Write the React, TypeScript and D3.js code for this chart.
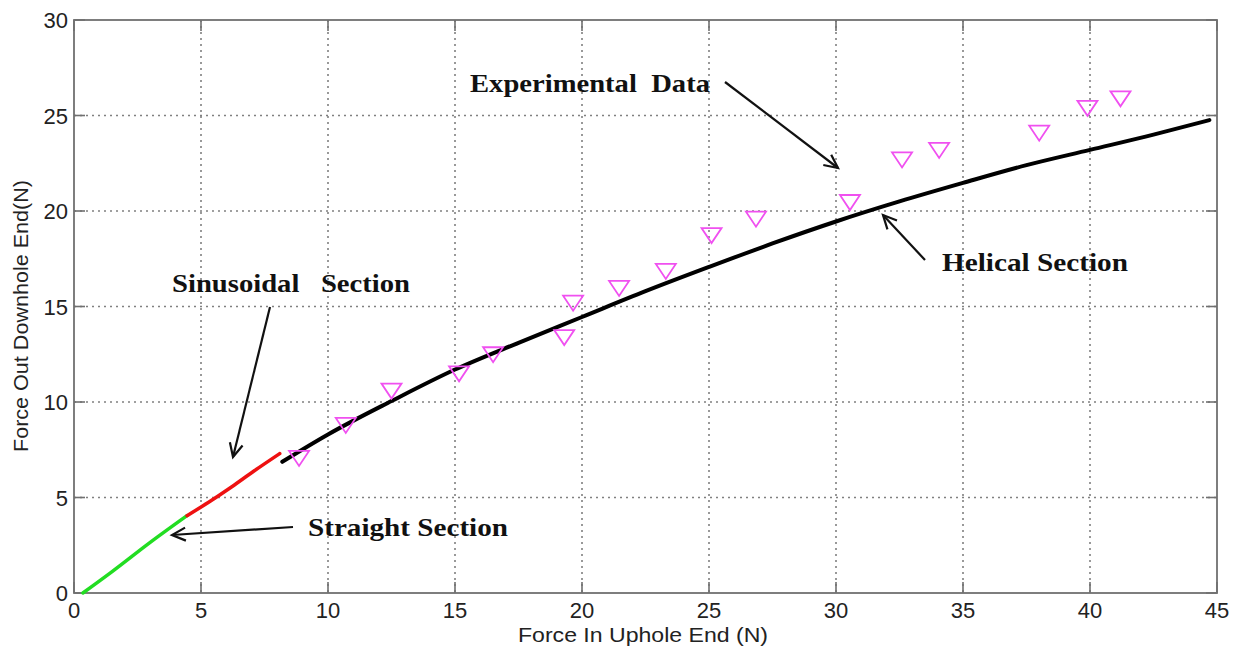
import React from "react";
import * as d3 from "d3";

const xTicks = [0, 5, 10, 15, 20, 25, 30, 35, 40, 45];
const yTicks = [0, 5, 10, 15, 20, 25, 30];

const straightX = [0.35, 1.5, 3.0, 4.45];
const straightY = [0.0, 1.12, 2.65, 4.05];

const sinusX = [4.45, 5.3, 6.2, 7.1, 8.1];
const sinusY = [4.05, 4.75, 5.55, 6.4, 7.3];

const helicalX = [8.2, 10, 12.5, 15, 17.5, 20, 22.5, 25, 27.5, 30, 32.5, 35, 37.5, 40, 42.5, 44.7];
const helicalY = [6.87, 8.3, 10.05, 11.7, 13.1, 14.45, 15.8, 17.07, 18.3, 19.45, 20.5, 21.47, 22.4, 23.2, 24.0, 24.76];

const expX = [8.86, 10.7, 12.5, 15.16, 16.5, 19.3, 19.65, 21.46, 23.3, 25.1, 26.85, 30.55, 32.6, 34.06, 38.0, 39.9, 41.2];
const expY = [7.07, 8.8, 10.6, 11.5, 12.5, 13.4, 15.2, 15.97, 16.86, 18.74, 19.6, 20.47, 22.7, 23.2, 24.1, 25.4, 25.9];

const annotations = [
  { text: "Experimental  Data", x: 470, y: 92, w: 240, ax1: 725, ay1: 82, ax2: 838, ay2: 168 },
  { text: "Sinusoidal   Section", x: 172, y: 292, w: 238, ax1: 270, ay1: 307, ax2: 233, ay2: 457 },
  { text: "Helical Section", x: 942, y: 271, w: 186, ax1: 925, ay1: 260, ax2: 883, ay2: 215 },
  { text: "Straight Section", x: 308, y: 536, w: 200, ax1: 293, ay1: 527, ax2: 172, ay2: 535 },
];

const W = 1238;
const H = 652;
const L = 74, R = 1217, T = 20, B = 593;

export default function App() {
  const x = d3.scaleLinear().domain([0, 45]).range([L, R]);
  const y = d3.scaleLinear().domain([0, 30]).range([B, T]);
  const line = d3.line<[number, number]>().x((d) => x(d[0])).y((d) => y(d[1])).curve(d3.curveMonotoneX);
  const pts = (xs: number[], ys: number[]) => xs.map((v, i) => [v, ys[i]] as [number, number]);
  const tickLen = 11;
  const axisColor = "#707070";
  const gridColor = "#808080";

  const arrowHead = (x1: number, y1: number, x2: number, y2: number) => {
    const ang = Math.atan2(y2 - y1, x2 - x1);
    const len = 15, spread = 0.45;
    const p1 = [x2 - len * Math.cos(ang - spread), y2 - len * Math.sin(ang - spread)];
    const p2 = [x2 - len * Math.cos(ang + spread), y2 - len * Math.sin(ang + spread)];
    return `M${p1[0]},${p1[1]}L${x2},${y2}L${p2[0]},${p2[1]}`;
  };

  return (
    <svg width={W} height={H} style={{ position: "absolute", left: 0, top: 0, background: "#fff" }}>
      <rect x={0} y={0} width={W} height={H} fill="#fff" />
      {xTicks.slice(1, -1).map((t) => (
        <line key={"gx" + t} x1={x(t)} x2={x(t)} y1={T} y2={B} stroke={gridColor} strokeWidth={1.6} strokeDasharray="2,4" />
      ))}
      {yTicks.slice(1, -1).map((t) => (
        <line key={"gy" + t} x1={L} x2={R} y1={y(t)} y2={y(t)} stroke={gridColor} strokeWidth={1.6} strokeDasharray="2,4" />
      ))}
      <rect x={L} y={T} width={R - L} height={B - T} fill="none" stroke={axisColor} strokeWidth={1.8} />
      {xTicks.map((t) => (
        <g key={"tx" + t}>
          <line x1={x(t)} x2={x(t)} y1={B} y2={B - tickLen} stroke={axisColor} strokeWidth={1.6} />
          <line x1={x(t)} x2={x(t)} y1={T} y2={T + tickLen} stroke={axisColor} strokeWidth={1.6} />
          <text x={x(t)} y={618} textAnchor="middle" fontFamily="Liberation Sans, Arial, sans-serif" fontSize={22} fill="#222">{t}</text>
        </g>
      ))}
      {yTicks.map((t) => (
        <g key={"ty" + t}>
          <line x1={L} x2={L + tickLen} y1={y(t)} y2={y(t)} stroke={axisColor} strokeWidth={1.6} />
          <line x1={R} x2={R - tickLen} y1={y(t)} y2={y(t)} stroke={axisColor} strokeWidth={1.6} />
          <text x={68} y={y(t) + 8} textAnchor="end" fontFamily="Liberation Sans, Arial, sans-serif" fontSize={22} fill="#222">{t}</text>
        </g>
      ))}
      <text x={643} y={642} textAnchor="middle" fontFamily="Liberation Sans, Arial, sans-serif" fontSize={21} textLength={250} lengthAdjust="spacingAndGlyphs" fill="#222">Force In Uphole End (N)</text>
      <text transform={`translate(28,${316}) rotate(-90)`} textAnchor="middle" fontFamily="Liberation Sans, Arial, sans-serif" fontSize={21} textLength={272} lengthAdjust="spacingAndGlyphs" fill="#222">Force Out Downhole End(N)</text>
      <path d={line(pts(straightX, straightY)) || ""} fill="none" stroke="#22dd22" strokeWidth={3.5} strokeLinecap="round" />
      <path d={line(pts(sinusX, sinusY)) || ""} fill="none" stroke="#ee1111" strokeWidth={3.5} strokeLinecap="round" />
      <path d={line(pts(helicalX, helicalY)) || ""} fill="none" stroke="#000" strokeWidth={4} strokeLinecap="round" />
      {expX.map((v, i) => {
        const cx = x(v), cy = y(expY[i]);
        return (
          <path key={"e" + i} d={`M${cx - 10},${cy - 7}L${cx + 10},${cy - 7}L${cx},${cy + 8}Z`} fill="none" stroke="#f050f0" strokeWidth={1.8} />
        );
      })}
      {annotations.map((a, i) => (
        <g key={"a" + i}>
          <text x={a.x} y={a.y} textLength={a.w} lengthAdjust="spacingAndGlyphs" fontFamily="Liberation Serif, Times New Roman, serif" fontWeight="bold" fontSize={26} fill="#111" style={{ whiteSpace: "pre" }}>{a.text}</text>
          <line x1={a.ax1} y1={a.ay1} x2={a.ax2} y2={a.ay2} stroke="#111" strokeWidth={2.2} />
          <path d={arrowHead(a.ax1, a.ay1, a.ax2, a.ay2)} fill="none" stroke="#111" strokeWidth={2.2} />
        </g>
      ))}
    </svg>
  );
}
